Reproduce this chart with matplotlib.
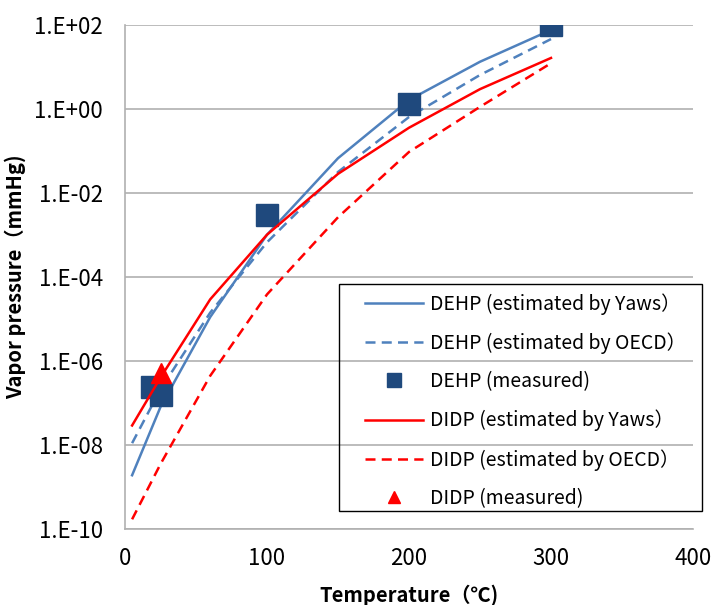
import math
import matplotlib
matplotlib.use("Agg")
import matplotlib.pyplot as plt
from matplotlib.patches import Rectangle
from matplotlib.ticker import FixedLocator, FuncFormatter, NullLocator

plt.rcParams['font.family'] = ['Noto Sans CJK JP', 'DejaVu Sans']

# temperatures for estimated curves (degC)
temp_est = [5, 25, 60, 100, 150, 200, 250, 300]

dehp_yaws = [1.9e-9, 8e-8, 1.1e-5, 1.0e-3, 6.6e-2, 1.6, 13, 74]
dehp_oecd = [1.1e-8, 2.1e-7, 1.4e-5, 6.6e-4, 3.1e-2, 0.63, 6.3, 45]
didp_yaws = [2.9e-8, 4.0e-7, 2.9e-5, 1.0e-3, 2.8e-2, 0.35, 2.9, 16]
didp_oecd = [1.7e-10, 3.5e-9, 4.4e-7, 3.8e-5, 2.6e-3, 9.3e-2, 1.1, 12]

dehp_meas_t = [19, 25, 100, 200, 300]
dehp_meas_p = [2.4e-7, 1.5e-7, 3.0e-3, 1.3, 95]

didp_meas_t = [25]
didp_meas_p = [5e-7]

y_ticks = [1e-10, 1e-8, 1e-6, 1e-4, 1e-2, 1e0, 1e2]
x_ticks = [0, 100, 200, 300, 400]

blue = '#4F81BD'
navy = '#1F497D'
red = '#FF0000'
W, H = 713, 605

fig = plt.figure(figsize=(W / 100, H / 100), dpi=100)
ax = fig.add_axes([125 / W, 1 - 529 / H, 568 / W, 504.5 / H])

ax.plot(temp_est, dehp_yaws, color=blue, lw=1.8, label='DEHP (estimated by Yaws）')
ax.plot(temp_est, dehp_oecd, color=blue, lw=1.8, ls=(0, (4, 2.5)),
        label='DEHP (estimated by OECD）')
ax.plot(dehp_meas_t, dehp_meas_p, ls='none', marker='s', ms=16, color=navy,
        label='DEHP (measured)')
ax.plot(temp_est, didp_yaws, color=red, lw=1.8, label='DIDP (estimated by Yaws）')
ax.plot(temp_est, didp_oecd, color=red, lw=1.8, ls=(0, (4, 2.5)),
        label='DIDP (estimated by OECD）')
ax.plot(didp_meas_t, didp_meas_p, ls='none', marker='^', ms=14, color=red,
        label='DIDP (measured)')

ax.set_yscale('log')
ax.set_ylim(1e-10, 1e2)
ax.set_xlim(0, 400)
ax.yaxis.set_major_locator(FixedLocator(y_ticks))
ax.yaxis.set_minor_locator(NullLocator())
ax.yaxis.set_major_formatter(FuncFormatter(lambda v, p: '1.E%+03d' % round(math.log10(v))))
ax.set_xticks(x_ticks)

ax.grid(axis='y', color='#B0B0B0', lw=1.2)
ax.set_axisbelow(True)
for s in ['top', 'right']:
    ax.spines[s].set_visible(False)
for s in ['left', 'bottom']:
    ax.spines[s].set_color('#B0B0B0')
    ax.spines[s].set_linewidth(1.2)
ax.tick_params(length=0, labelsize=16)
ax.tick_params(axis='y', pad=16)
ax.tick_params(axis='x', pad=13)

ax.set_xlabel('Temperature（℃)', fontsize=14.5, fontweight='bold', labelpad=10)
ax.set_ylabel('Vapor pressure（mmHg)', fontsize=14.5, fontweight='bold', labelpad=6)

# legend entries without frame, frame drawn as a box around them
leg = ax.legend(loc='upper left', bbox_to_anchor=(365 / W, 1 - 293 / H),
                bbox_transform=fig.transFigure, fontsize=14, frameon=False,
                handlelength=3.0, handletextpad=0.36, labelspacing=0.9,
                borderpad=0, markerscale=0.6, borderaxespad=0)
fig.add_artist(Rectangle((339 / W, 1 - 511 / H), 363 / W, 227 / H,
                         transform=fig.transFigure, fill=False,
                         edgecolor='black', lw=1.0, zorder=5))

fig.savefig('out.png', dpi=100)
